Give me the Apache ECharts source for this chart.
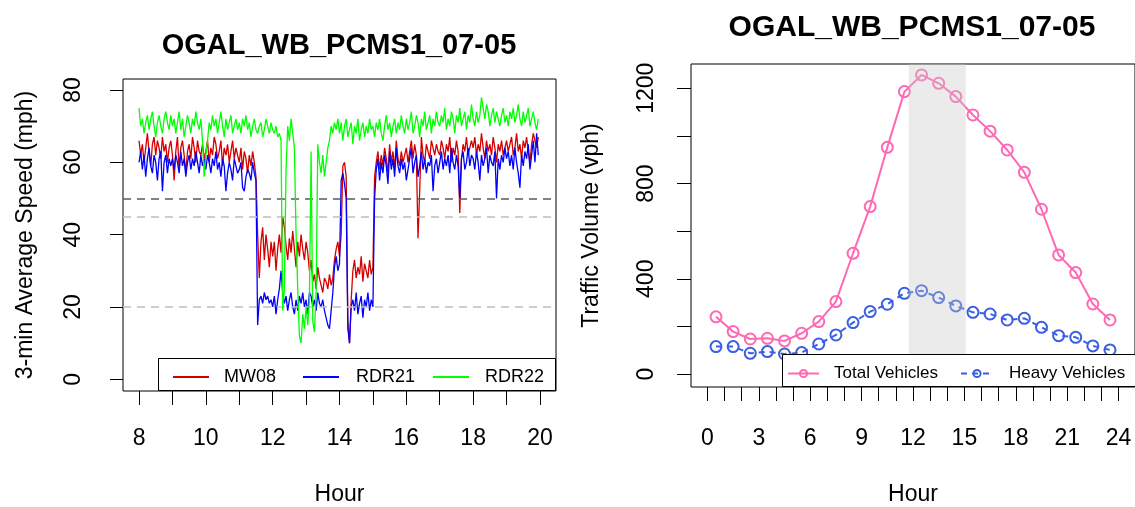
<!DOCTYPE html>
<html>
<head>
<meta charset="utf-8">
<script src="https://cdn.jsdelivr.net/npm/echarts@6/dist/echarts.min.js"></script>
<style>
html,body{margin:0;padding:0;background:#fff;}
#chart{width:1135px;height:507px;}
</style>
</head>
<body>
<div id="chart"></div>
<script>
// ---------- Left panel: 3-min average speeds (mph), 8:00 - 19:57 ----------
const startHour = 8;
const stepHour = 0.05; // 3 minutes
const mw08 = [
  66,62,65,60,64,68,63,59,65,67,62,66,64,61,67,63,65,60,64,66,
  62,55,63,67,58,64,66,62,57,63,65,61,67,64,60,66,63,62,65,61,
  63,66,60,64,62,67,65,61,63,66,59,64,62,65,60,63,66,61,64,62,
  60,64,58,63,61,57,62,59,63,60,56,40,28,38,42,33,40,36,31,38,
  34,38,30,36,40,35,45,42,37,33,39,35,41,36,31,38,34,40,36,33,
  38,35,30,33,27,29,25,31,28,26,24,28,27,25,29,26,28,33,36,38,
  34,40,59,60,56,16,10,22,30,33,28,31,29,34,27,32,30,28,33,29,
  31,56,60,63,58,62,59,64,61,57,65,60,63,58,66,61,59,63,60,62,
  64,60,63,66,61,65,62,39,52,67,62,60,65,63,61,66,64,62,65,63,
  62,66,64,61,65,63,67,60,64,62,66,63,46,61,65,63,67,62,64,66,
  64,67,62,65,63,68,64,61,66,63,65,62,67,64,60,65,63,66,62,64,
  66,63,65,67,62,64,68,63,65,61,66,64,67,63,60,65,68,66,64,67
];
const rdr21 = [
  60,63,58,62,56,61,64,59,57,62,60,55,61,63,52,60,62,57,61,59,
  61,58,62,60,57,63,59,61,56,60,62,58,61,59,63,60,57,62,59,61,
  58,62,60,57,61,59,63,58,60,56,61,59,52,57,60,58,55,61,59,57,
  58,60,53,52,56,58,57,55,60,57,55,15,22,23,21,24,22,23,21,22,
  20,23,18,22,25,30,24,21,23,19,22,24,20,18,22,19,23,21,24,20,
  22,18,24,23,20,22,19,24,21,20,22,19,17,15,14,19,24,31,34,30,
  32,55,57,54,50,14,10,20,22,19,24,18,21,23,17,22,20,24,19,22,
  20,50,58,61,55,60,57,62,59,54,63,58,61,56,64,59,57,61,58,60,
  55,58,61,64,57,60,62,56,59,63,58,61,57,60,59,62,52,59,61,57,
  60,63,58,61,59,62,57,64,60,58,62,59,50,61,63,58,60,64,59,62,
  61,58,63,60,55,62,59,61,64,57,62,60,59,63,50,61,58,62,60,64,
  61,63,59,62,58,64,60,57,53,62,59,63,61,65,58,62,66,60,68,62
];
const rdr22 = [
  75,70,72,68,71,73,69,72,74,70,67,71,73,70,68,72,74,71,69,73,
  70,72,68,71,74,69,72,67,70,73,71,68,72,70,74,71,69,72,66,56,
  62,66,71,69,73,70,72,68,71,74,70,67,72,69,71,73,68,70,72,69,
  71,68,72,70,73,69,71,67,70,72,69,68,70,71,67,69,72,70,68,71,
  69,68,70,67,68,66,19,25,58,70,66,72,68,64,40,25,12,10,18,14,
  20,15,22,63,16,13,24,65,60,57,62,56,60,64,66,70,68,71,69,72,
  68,71,66,70,72,67,69,71,65,70,68,72,66,69,71,67,70,68,72,69,
  70,67,71,69,72,68,66,70,73,69,71,67,70,72,68,71,69,73,70,68,
  72,69,71,74,68,70,73,71,67,72,70,74,69,71,73,68,72,70,74,71,
  70,73,71,75,69,72,70,74,72,68,73,71,75,70,72,74,69,73,71,76,
  72,70,74,71,73,78,75,72,76,74,70,73,75,71,74,72,70,73,75,71,
  73,70,74,72,75,71,73,76,72,70,74,71,73,75,70,72,74,71,69,72
];
const speedRefLines = [50, 45, 20];
const leftXTicks = [8,9,10,11,12,13,14,15,16,17,18,19,20];
const leftXLabels = [8,10,12,14,16,18,20];
const leftYTicks = [0,20,40,60,80];

// ---------- Right panel: hourly traffic volume (vph) ----------
const hourMid = [0.5,1.5,2.5,3.5,4.5,5.5,6.5,7.5,8.5,9.5,10.5,11.5,12.5,13.5,14.5,15.5,16.5,17.5,18.5,19.5,20.5,21.5,22.5,23.5];
const totalVeh = [240,178,147,150,139,171,220,304,507,703,952,1186,1256,1221,1165,1088,1020,941,847,692,500,426,294,227];
const heavyVeh = [115,115,87,94,84,90,126,164,216,262,293,339,350,321,286,259,252,227,234,196,161,154,118,101];
const shadeHours = [[11.75, 15.08]];
const rightXTicks = [0,1,2,3,4,5,6,7,8,9,10,11,12,13,14,15,16,17,18,19,20,21,22,23,24];
const rightXLabels = [0,3,6,9,12,15,18,21,24];
const rightYTicks = [0,200,400,600,800,1000,1200];
const rightYLabels = [0,400,800,1200];

const toPairs = arr => arr.map((v, i) => [startHour + stepHour * i, v]);
const zip = (xs, ys) => xs.map((x, i) => [x, ys[i]]);

const FONT = 'Liberation Sans, Arial, sans-serif';
const tickLabel = {fontSize: 23, color: '#000', fontFamily: FONT, formatter: v => String(v)};
const lineIcon = 'path://M0,0 L36,0 L36,2 L0,2 Z';

const chart = echarts.init(document.getElementById('chart'), null, {renderer: 'canvas'});

const option = {
  animation: false,
  backgroundColor: '#fff',
  textStyle: {fontFamily: FONT},
  grid: [
    {left: 123, top: 79, width: 433, height: 312, show: true, borderColor: '#000', borderWidth: 1, backgroundColor: 'transparent', containLabel: false, outerBoundsMode: 'none'},
    {left: 691, top: 64, width: 444, height: 323, show: true, borderColor: '#000', borderWidth: 1, backgroundColor: 'transparent', containLabel: false, outerBoundsMode: 'none'}
  ],
  xAxis: [
    {
      gridIndex: 0, type: 'value', min: 7.52, max: 20.48,
      name: 'Hour', nameLocation: 'middle', nameGap: 92,
      nameTextStyle: {fontSize: 23, color: '#000', fontFamily: FONT},
      axisLine: {show: false, onZero: false},
      splitLine: {show: false},
      axisTick: {show: true, inside: false, length: 14, lineStyle: {color: '#000', width: 1}, customValues: leftXTicks},
      axisLabel: Object.assign({margin: 36, customValues: leftXLabels}, tickLabel)
    },
    {
      gridIndex: 1, type: 'value', min: -0.96, max: 24.96,
      name: 'Hour', nameLocation: 'middle', nameGap: 96,
      nameTextStyle: {fontSize: 23, color: '#000', fontFamily: FONT},
      axisLine: {show: false, onZero: false},
      splitLine: {show: false},
      axisTick: {show: true, length: 14, lineStyle: {color: '#000', width: 1}, customValues: rightXTicks},
      axisLabel: Object.assign({margin: 40, customValues: rightXLabels}, tickLabel)
    }
  ],
  yAxis: [
    {
      gridIndex: 0, type: 'value', min: -3.24, max: 83.04,
      name: '3-min Average Speed (mph)', nameLocation: 'middle', nameGap: 86,
      nameTextStyle: {fontSize: 23, color: '#000', fontFamily: FONT},
      axisLine: {show: false, onZero: false},
      splitLine: {show: false},
      axisTick: {show: true, length: 13, lineStyle: {color: '#000', width: 1}, customValues: leftYTicks},
      axisLabel: Object.assign({margin: 38, rotate: 90, customValues: leftYTicks}, tickLabel)
    },
    {
      gridIndex: 1, type: 'value', min: -54.6, max: 1302,
      name: 'Traffic Volume (vph)', nameLocation: 'middle', nameGap: 88,
      nameTextStyle: {fontSize: 23, color: '#000', fontFamily: FONT},
      axisLine: {show: false, onZero: false},
      splitLine: {show: false},
      axisTick: {show: true, length: 14, lineStyle: {color: '#000', width: 1}, customValues: rightYTicks},
      axisLabel: Object.assign({margin: 33, rotate: 90, customValues: rightYLabels}, tickLabel)
    }
  ],
  legend: [
    {data: ['MW08'], left: 173, top: 368, padding: 0, itemWidth: 36, itemHeight: 2, icon: lineIcon, z: 60,
     textStyle: {fontSize: 18, color: '#000', padding: [0,0,0,10]}},
    {data: ['RDR21'], left: 303, top: 368, padding: 0, itemWidth: 36, itemHeight: 2, icon: lineIcon, z: 60,
     textStyle: {fontSize: 18, color: '#000', padding: [0,0,0,12]}},
    {data: ['RDR22'], left: 433, top: 368, padding: 0, itemWidth: 36, itemHeight: 2, icon: lineIcon, z: 60,
     textStyle: {fontSize: 18, color: '#000', padding: [0,0,0,11]}},
    {data: ['Total Vehicles'], left: 787, top: 365, padding: 0, itemWidth: 31, itemHeight: 9, z: 60,
     textStyle: {fontSize: 17, color: '#000', padding: [0,0,0,10]}},
    {data: ['Heavy Vehicles'], left: 960, top: 365, padding: 0, itemWidth: 32, itemHeight: 9, z: 60,
     textStyle: {fontSize: 17, color: '#000', padding: [0,0,0,11]}}
  ],
  graphic: [
    {type: 'text', x: 339, y: 46, z: 60, style: {text: 'OGAL_WB_PCMS1_07-05', font: 'bold 29px Liberation Sans, Arial, sans-serif', fill: '#000', textAlign: 'center', textVerticalAlign: 'middle'}},
    {type: 'text', x: 912, y: 28, z: 60, style: {text: 'OGAL_WB_PCMS1_07-05', font: 'bold 30px Liberation Sans, Arial, sans-serif', fill: '#000', textAlign: 'center', textVerticalAlign: 'middle'}},
    {type: 'rect', z: 50, shape: {x: 158.5, y: 358.5, width: 397, height: 32}, style: {fill: '#fff', stroke: '#000', lineWidth: 1}},
    {type: 'rect', z: 50, shape: {x: 782.5, y: 354.5, width: 360, height: 32}, style: {fill: '#fff', stroke: '#000', lineWidth: 1}}
  ],
  series: [
    {
      name: 'MW08', type: 'line', xAxisIndex: 0, yAxisIndex: 0, data: toPairs(mw08),
      symbol: 'none', lineStyle: {color: '#D40000', width: 1.3}, itemStyle: {color: '#D40000'}, z: 3,
      markLine: {
        silent: true, symbol: 'none', label: {show: false},
        data: [
          {yAxis: speedRefLines[0], lineStyle: {color: '#5A5A5A', type: [8, 6], width: 1.5}},
          {yAxis: speedRefLines[1], lineStyle: {color: '#BEBEBE', type: [8, 6], width: 1.5}},
          {yAxis: speedRefLines[2], lineStyle: {color: '#BEBEBE', type: [8, 6], width: 1.5}}
        ]
      }
    },
    {
      name: 'RDR21', type: 'line', xAxisIndex: 0, yAxisIndex: 0, data: toPairs(rdr21),
      symbol: 'none', lineStyle: {color: '#0000FF', width: 1.3}, itemStyle: {color: '#0000FF'}, z: 4
    },
    {
      name: 'RDR22', type: 'line', xAxisIndex: 0, yAxisIndex: 0, data: toPairs(rdr22),
      symbol: 'none', lineStyle: {color: '#00FF00', width: 1.3}, itemStyle: {color: '#00FF00'}, z: 5
    },
    {
      name: 'Total Vehicles', type: 'line', xAxisIndex: 1, yAxisIndex: 1, data: zip(hourMid, totalVeh),
      symbol: 'circle', symbolSize: 11, showAllSymbol: true,
      lineStyle: {color: '#FF69B4', width: 2},
      itemStyle: {color: 'rgba(255,255,255,0)', borderColor: '#FF69B4', borderWidth: 2}, z: 3
    },
    {
      name: 'Heavy Vehicles', type: 'line', xAxisIndex: 1, yAxisIndex: 1, data: zip(hourMid, heavyVeh),
      symbol: 'circle', symbolSize: 11, showAllSymbol: true,
      lineStyle: {color: '#3A5FE0', width: 2, type: [6, 5]},
      itemStyle: {color: 'rgba(255,255,255,0)', borderColor: '#3A5FE0', borderWidth: 2}, z: 3
    },
    {
      name: 'peak shade', type: 'custom', xAxisIndex: 1, yAxisIndex: 1, data: shadeHours, z: 20, silent: true,
      renderItem: function (params, api) {
        const p0 = api.coord([api.value(0), 1302]);
        const p1 = api.coord([api.value(1), -54.6]);
        return {type: 'rect', shape: {x: p0[0], y: p0[1], width: p1[0] - p0[0], height: p1[1] - p0[1]},
                style: {fill: 'rgba(200,200,200,0.36)'}};
      }
    }
  ]
};
chart.setOption(option);
</script>
</body>
</html>
